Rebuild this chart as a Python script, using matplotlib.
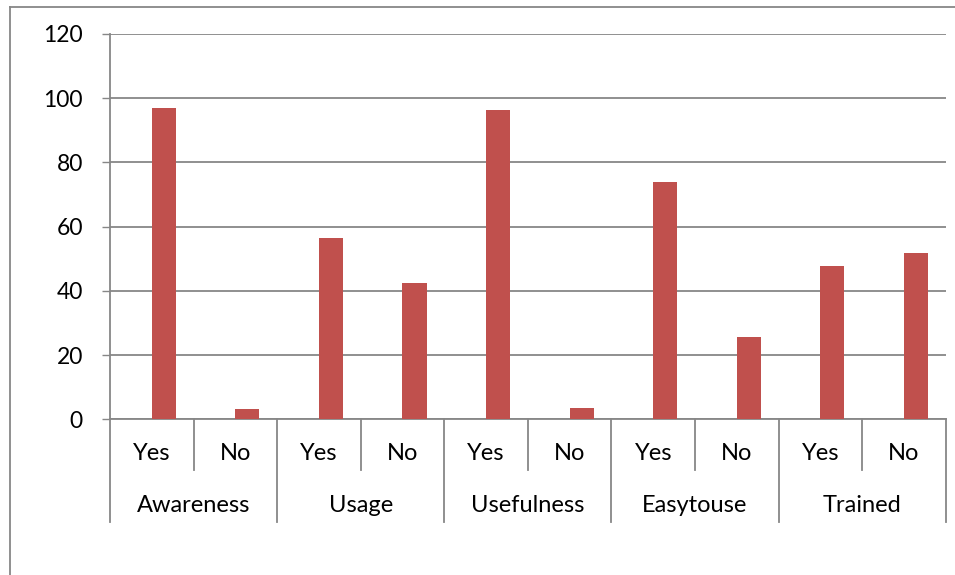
import matplotlib
matplotlib.use("Agg")
import matplotlib.pyplot as plt
import matplotlib.transforms as mtransforms
from matplotlib.lines import Line2D

# data
groups = ["Awareness", "Usage", "Usefulness", "Easytouse", "Trained"]
answers = ["Yes", "No"]
values = [96.9, 3.1, 56.4, 42.5, 96.3, 3.4, 73.9, 25.7, 47.9, 51.7]
yticks = [0, 20, 40, 60, 80, 100, 120]

bar_color = "#C0504D"
line_color = "#878787"
font = "Lato"
fs = 17

W, H = 955, 575
fig = plt.figure(figsize=(W / 100, H / 100), dpi=100)
ax = fig.add_axes([110 / W, (H - 419.3) / H, (945.7 - 110) / W, (419.3 - 34) / H])

n = len(values)
xs = [i + 0.5 for i in range(n)]
ax.bar(xs, values, width=0.288, align="edge", color=bar_color, zorder=3)

ax.set_xlim(0, n)
ax.set_ylim(0, 120)
ax.set_yticks(yticks)
ax.set_yticklabels([str(t) for t in yticks], fontsize=16.5, family=font)
ax.tick_params(axis="y", length=6, width=1, color=line_color, pad=13.5, direction="out")
ax.set_xticks([])
ax.yaxis.grid(True, color=line_color, linewidth=1.3, zorder=0)
ax.set_axisbelow(True)

for s in ["top", "right"]:
    ax.spines[s].set_visible(False)
for s in ["left", "bottom"]:
    ax.spines[s].set_color(line_color)
    ax.spines[s].set_linewidth(1.3)

# two-level category axis
trans = mtransforms.blended_transform_factory(ax.transData, ax.transAxes)
h_px = 419.3 - 34
y_sub = -33.7 / h_px
y_grp = -85.7 / h_px
y_sub_sep = -51 / h_px
y_grp_sep = -103 / h_px

for i in range(n):
    ax.text(i + 0.5, y_sub, answers[i % 2], transform=trans, ha="center", va="center",
            fontsize=fs, family=font)
for g, name in enumerate(groups):
    ax.text(2 * g + 1, y_grp, name, transform=trans, ha="center", va="center",
            fontsize=fs, family=font)

for k in range(n + 1):
    bottom = y_grp_sep if k % 2 == 0 else y_sub_sep
    ax.plot([k, k], [0, bottom], transform=trans, color=line_color, linewidth=1.3,
            clip_on=False)

# outer chart border (top and left edges show inside the image)
fig.add_artist(Line2D([10 / W, 10 / W], [0, 1 - 7 / H], color=line_color, linewidth=1.3))
fig.add_artist(Line2D([10 / W, 1], [1 - 7 / H, 1 - 7 / H], color=line_color, linewidth=1.3))

fig.savefig("out.png", dpi=100)
